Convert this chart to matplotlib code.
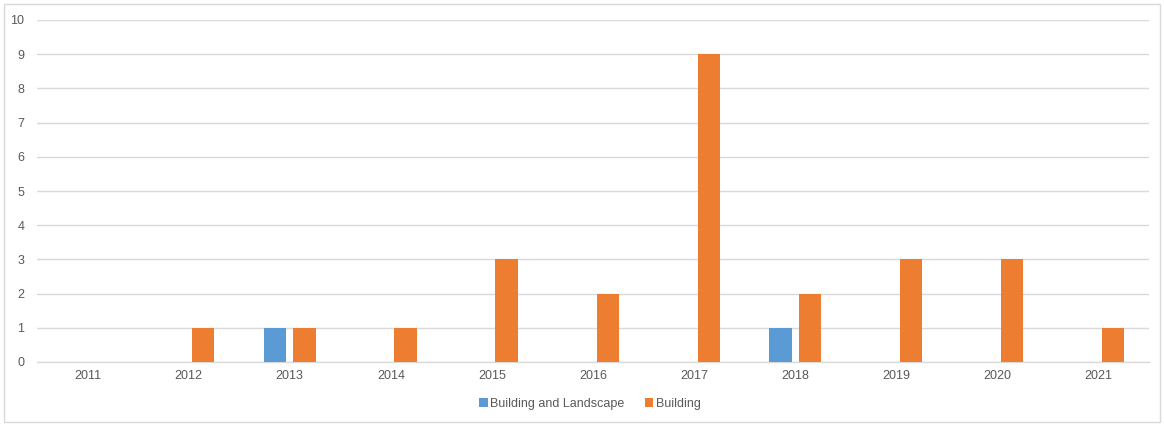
import matplotlib.pyplot as plt
from matplotlib.patches import Rectangle
import numpy as np

# Project counts per year by category
years = ['2011', '2012', '2013', '2014', '2015', '2016', '2017', '2018', '2019', '2020', '2021']
building_landscape = [0, 0, 1, 0, 0, 0, 0, 1, 0, 0, 0]
building = [0, 1, 1, 1, 3, 2, 9, 2, 3, 3, 1]

plt.rcParams['font.family'] = ['Liberation Sans', 'DejaVu Sans']

BLUE = '#5b9bd5'
ORANGE = '#ed7d31'
GRID = '#d9d9d9'
TEXT = '#595959'

fig = plt.figure(figsize=(11.64, 4.24), dpi=100)
ax = fig.add_axes([37 / 1164, 1 - 362 / 424, (1149 - 37) / 1164, (362 - 20) / 424])

x = np.arange(len(years))
width = 0.22
offset = 0.145
ax.bar(x - offset, building_landscape, width, color=BLUE, label='Building and Landscape', zorder=3)
ax.bar(x + offset, building, width, color=ORANGE, label='Building', zorder=3)

ax.set_xlim(-0.5, len(years) - 0.5)
ax.set_ylim(0, 10)
ax.set_yticks(range(0, 11))
ax.set_xticks(x)
ax.set_xticklabels(years)
ax.yaxis.grid(True, color=GRID, linewidth=1, zorder=0)
ax.set_axisbelow(True)

for side in ['top', 'right', 'left']:
    ax.spines[side].set_visible(False)
ax.spines['bottom'].set_color(GRID)
ax.spines['bottom'].set_linewidth(1)
ax.tick_params(axis='both', length=0, colors=TEXT, labelsize=9)
ax.tick_params(axis='x', pad=6)
ax.tick_params(axis='y', pad=9)

fig.legend(loc='center', bbox_to_anchor=(590 / 1164, 1 - 404 / 424), ncol=2, frameon=False,
           fontsize=9, labelcolor=TEXT, handlelength=0.7, handleheight=0.7,
           handletextpad=0.2, columnspacing=1.6)

# Light border around the whole chart
fig.patches.append(Rectangle((4 / 1164, 2 / 424), 1156 / 1164, 418 / 424, transform=fig.transFigure,
                             fill=False, edgecolor=GRID, linewidth=1))

fig.savefig('out.png', dpi=100)
